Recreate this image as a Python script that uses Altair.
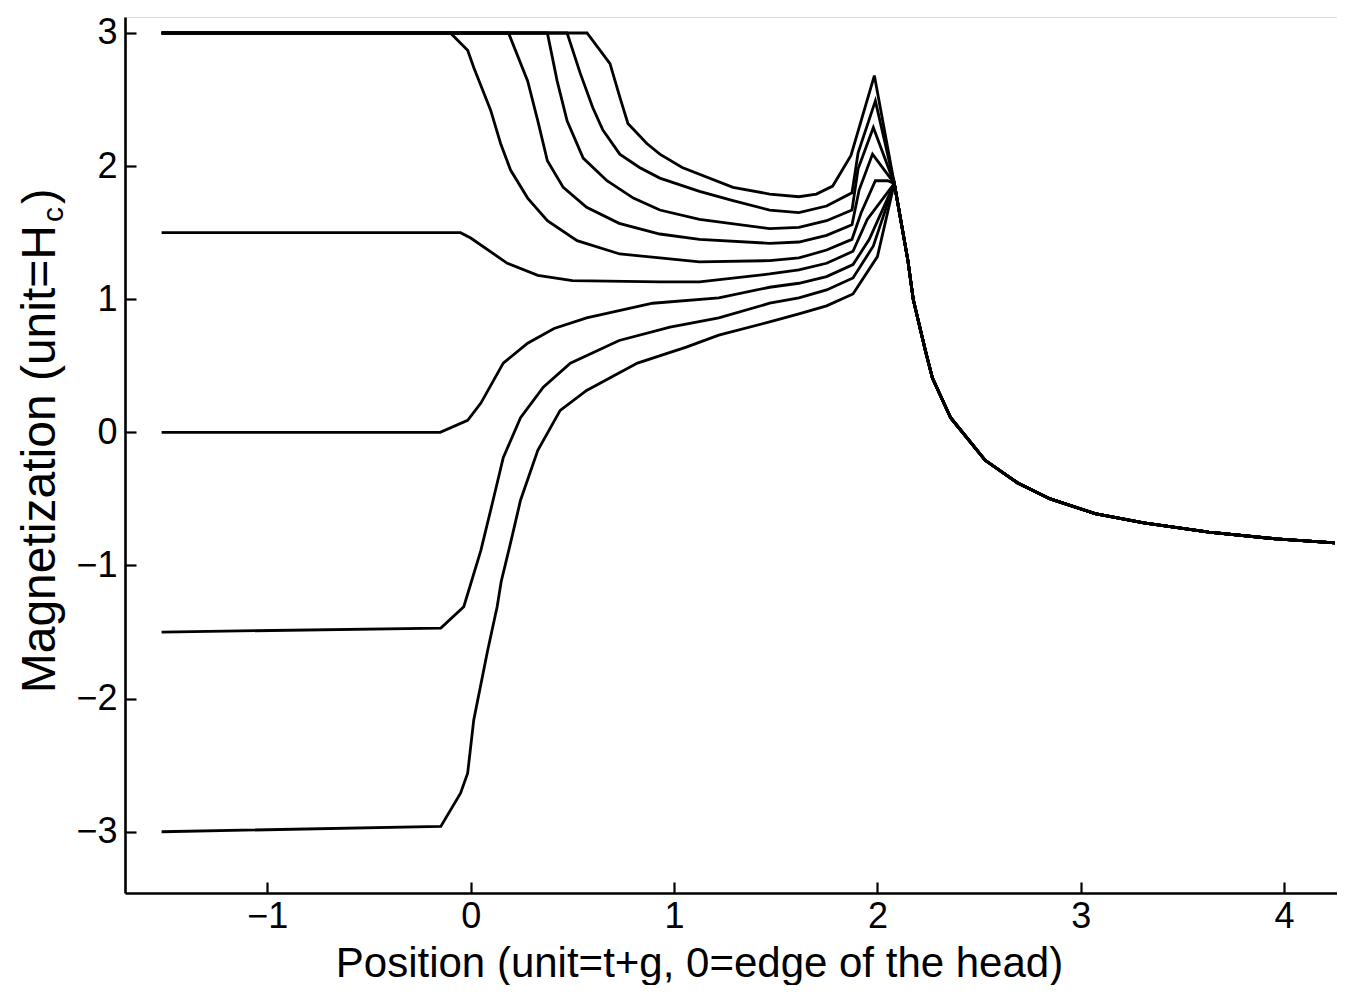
import altair as alt
import pandas as pd

# ---- curve data (position, magnetization) ----
# five curves that start at +3 and leave the plateau at different positions
A_X = [-1.52, -0.10, -0.015, 0.015, 0.098, 0.147, 0.196, 0.28, 0.377, 0.523, 0.733, 0.93, 1.125, 1.47, 1.614, 1.75, 1.875, 1.92, 1.99, 2.05]
A_Y = [3.0, 3.0, 2.87, 2.74, 2.42, 2.17, 1.97, 1.76, 1.59, 1.44, 1.34, 1.31, 1.28, 1.29, 1.31, 1.37, 1.45, 1.65, 1.89, 1.89]

B_X = [-1.52, 0.186, 0.28, 0.33, 0.377, 0.455, 0.57, 0.73, 0.93, 1.125, 1.47, 1.614, 1.75, 1.875, 1.91, 1.976]
B_Y = [3.0, 3.0, 2.64, 2.34, 2.04, 1.84, 1.69, 1.57, 1.49, 1.45, 1.42, 1.43, 1.48, 1.56, 1.82, 2.09]

C_X = [-1.52, 0.377, 0.425, 0.474, 0.553, 0.67, 0.80, 0.93, 1.125, 1.47, 1.614, 1.75, 1.875, 1.905, 1.98]
C_Y = [3.0, 3.0, 2.64, 2.34, 2.06, 1.89, 1.76, 1.67, 1.60, 1.53, 1.54, 1.59, 1.67, 1.98, 2.29]

D_X = [-1.52, 0.474, 0.538, 0.60, 0.65, 0.733, 0.83, 0.93, 1.125, 1.29, 1.47, 1.614, 1.75, 1.875, 1.905, 1.99]
D_Y = [3.0, 3.0, 2.70, 2.44, 2.27, 2.09, 1.99, 1.91, 1.81, 1.74, 1.67, 1.65, 1.70, 1.80, 2.10, 2.49]

E_X = [-1.52, 0.572, 0.685, 0.733, 0.773, 0.866, 0.93, 1.04, 1.29, 1.47, 1.614, 1.70, 1.78, 1.87, 1.985]
E_Y = [3.0, 3.0, 2.77, 2.52, 2.32, 2.17, 2.09, 1.99, 1.84, 1.79, 1.77, 1.79, 1.85, 2.08, 2.68]

# curve starting at +1.5
F_X = [-1.52, -0.05, 0.0, 0.18, 0.33, 0.50, 0.93, 1.125, 1.47, 1.614, 1.75, 1.88, 1.95]
F_Y = [1.5, 1.50, 1.46, 1.27, 1.18, 1.14, 1.13, 1.13, 1.19, 1.22, 1.27, 1.36, 1.60]

# curve starting at 0
G_X = [-1.52, -0.15, -0.015, 0.05, 0.16, 0.28, 0.41, 0.57, 0.895, 1.22, 1.47, 1.614, 1.75, 1.88, 1.96]
G_Y = [0.0, 0.0, 0.09, 0.22, 0.52, 0.67, 0.78, 0.86, 0.97, 1.01, 1.09, 1.12, 1.17, 1.26, 1.45]

# curve starting at -1.5
H_X = [-1.52, -0.147, -0.034, 0.05, 0.11, 0.16, 0.245, 0.357, 0.49, 0.73, 0.98, 1.22, 1.47, 1.614, 1.75, 1.88, 1.98]
H_Y = [-1.5, -1.47, -1.31, -0.886, -0.51, -0.19, 0.11, 0.34, 0.52, 0.69, 0.79, 0.86, 0.97, 1.01, 1.07, 1.16, 1.40]

# curve starting at -3
I_X = [-1.52, -0.147, -0.05, -0.015, 0.015, 0.083, 0.13, 0.15, 0.196, 0.245, 0.33, 0.44, 0.57, 0.82, 1.06, 1.22, 1.47, 1.614, 1.75, 1.88, 2.0]
I_Y = [-3.0, -2.96, -2.71, -2.56, -2.16, -1.64, -1.31, -1.12, -0.83, -0.51, -0.135, 0.165, 0.315, 0.52, 0.64, 0.73, 0.83, 0.89, 0.95, 1.04, 1.32]

# common tail shared by every curve after the junction
TAIL_X = [2.083, 2.15, 2.176, 2.235, 2.27, 2.36, 2.53, 2.69, 2.85, 3.07, 3.31, 3.63, 3.96, 4.25]
TAIL_Y = [1.87, 1.29, 1.0, 0.62, 0.41, 0.11, -0.21, -0.38, -0.50, -0.61, -0.68, -0.75, -0.80, -0.83]

X_TICKS = [-1, 0, 1, 2, 3, 4]
Y_TICKS = [-3, -2, -1, 0, 1, 2, 3]

X_DOMAIN = [-1.70, 4.26]
Y_DOMAIN = [-3.46, 3.12]

W, H = 1212, 876
FONT = "Liberation Sans"

curves = {"A": (A_X, A_Y), "B": (B_X, B_Y), "C": (C_X, C_Y), "D": (D_X, D_Y), "E": (E_X, E_Y),
          "F": (F_X, F_Y), "G": (G_X, G_Y), "H": (H_X, H_Y), "I": (I_X, I_Y)}

rows = []
for name, (xs, ys) in curves.items():
    allx = list(xs) + TAIL_X
    ally = list(ys) + TAIL_Y
    for i, (xv, yv) in enumerate(zip(allx, ally)):
        rows.append({"curve": name, "i": i, "x": xv, "y": yv})
df = pd.DataFrame(rows)

xscale = alt.Scale(domain=X_DOMAIN, nice=False, zero=False)
yscale = alt.Scale(domain=Y_DOMAIN, nice=False, zero=False)

# ticks drawn inward (negative size passed as an expression)
INWARD = {"expr": "-11"}

lines = alt.Chart(df).mark_line(color="black", strokeWidth=2.8).encode(
    x=alt.X("x:Q", scale=xscale,
            axis=alt.Axis(values=X_TICKS, format="d", grid=False,
                          ticks=True, tickSize=INWARD, tickWidth=2.2, tickColor="black",
                          labelPadding=17, labelFontSize=36, labelFont=FONT, labelColor="black",
                          domainColor="black", domainWidth=2.6,
                          title="Position (unit=t+g, 0=edge of the head)",
                          titleFont=FONT, titleFontSize=42, titleFontWeight="normal", titleColor="black",
                          titleX=574, titleY=83, titleBaseline="alphabetic")),
    y=alt.Y("y:Q", scale=yscale,
            axis=alt.Axis(values=Y_TICKS, format="d", grid=False,
                          ticks=True, tickSize=INWARD, tickWidth=2.2, tickColor="black",
                          labelPadding=19, labelFontSize=36, labelFont=FONT, labelColor="black",
                          domainColor="black", domainWidth=2.6, title=None)),
    detail="curve:N",
    order="i:Q",
)

t_main = alt.Chart(pd.DataFrame({"t": ["Magnetization (unit=H"]})).mark_text(
    angle=270, align="right", baseline="alphabetic", font=FONT, fontSize=48, color="black"
).encode(text="t:N", x=alt.value(-70), y=alt.value(208))
t_sub = alt.Chart(pd.DataFrame({"t": ["c"]})).mark_text(
    angle=270, align="left", baseline="alphabetic", font=FONT, fontSize=30, color="black"
).encode(text="t:N", x=alt.value(-62), y=alt.value(205))
t_par = alt.Chart(pd.DataFrame({"t": [")"]})).mark_text(
    angle=270, align="left", baseline="alphabetic", font=FONT, fontSize=46, color="black"
).encode(text="t:N", x=alt.value(-70), y=alt.value(187))

chart = alt.layer(lines, t_main, t_sub, t_par).properties(
    width=W, height=H,
    autosize=alt.AutoSizeParams(type="none"),
    padding={"left": 117, "top": 9, "right": 0, "bottom": 92},
).configure_view(stroke="transparent", strokeWidth=0).configure(background="white")

chart.save("out.html", embed_options={"renderer": "svg", "actions": False})
